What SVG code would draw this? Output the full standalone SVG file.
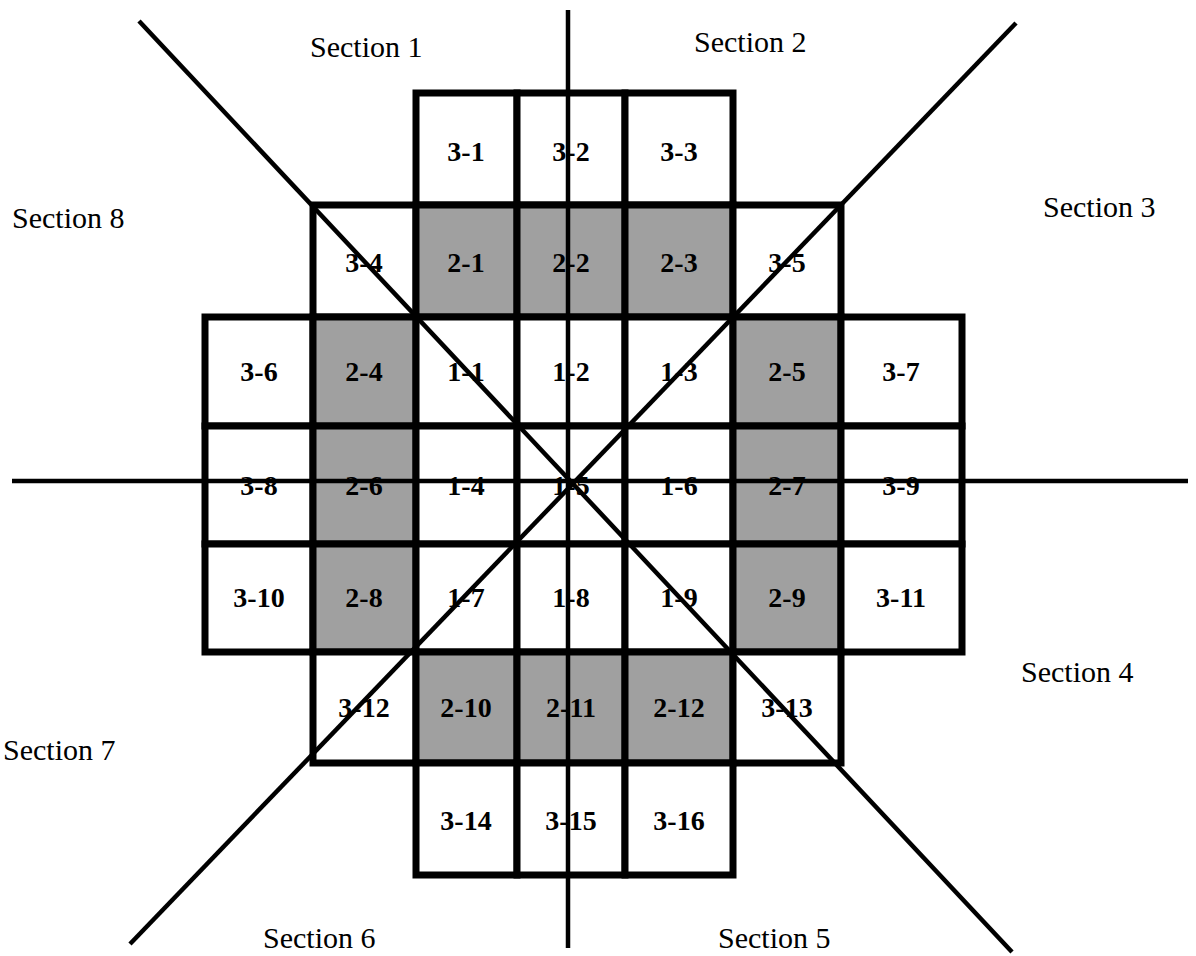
<svg xmlns="http://www.w3.org/2000/svg" width="1196" height="956" viewBox="0 0 1196 956">
<style>
.c{fill:#fff;stroke:#000;stroke-width:7}
.g{fill:#a0a0a0;stroke:#000;stroke-width:7}
.t{font-family:"Liberation Serif",serif;font-weight:bold;font-size:28px;text-anchor:middle;fill:#000}
.s{font-family:"Liberation Serif",serif;font-size:30px;fill:#000}
.l{stroke:#000;stroke-width:4.5;fill:none}
</style>
<rect width="1196" height="956" fill="#fff"/>
<g id="cells">
<g id="c3-1"><rect class="c" x="416" y="93" width="101" height="112"/><text class="t" x="466" y="161">3-1</text></g>
<g id="c3-2"><rect class="c" x="517" y="93" width="108" height="112"/><text class="t" x="571" y="161">3-2</text></g>
<g id="c3-3"><rect class="c" x="625" y="93" width="108" height="112"/><text class="t" x="679" y="161">3-3</text></g>
<g id="c3-4"><rect class="c" x="313" y="205" width="103" height="112"/><text class="t" x="364" y="272">3-4</text></g>
<g id="c2-1"><rect class="g" x="416" y="205" width="101" height="112"/><text class="t" x="466" y="272">2-1</text></g>
<g id="c2-2"><rect class="g" x="517" y="205" width="108" height="112"/><text class="t" x="571" y="272">2-2</text></g>
<g id="c2-3"><rect class="g" x="625" y="205" width="108" height="112"/><text class="t" x="679" y="272">2-3</text></g>
<g id="c3-5"><rect class="c" x="733" y="205" width="108" height="112"/><text class="t" x="787" y="272">3-5</text></g>
<g id="c3-6"><rect class="c" x="205" y="317" width="108" height="109"/><text class="t" x="259" y="381">3-6</text></g>
<g id="c2-4"><rect class="g" x="313" y="317" width="103" height="109"/><text class="t" x="364" y="381">2-4</text></g>
<g id="c1-1"><rect class="c" x="416" y="317" width="101" height="109"/><text class="t" x="466" y="381">1-1</text></g>
<g id="c1-2"><rect class="c" x="517" y="317" width="108" height="109"/><text class="t" x="571" y="381">1-2</text></g>
<g id="c1-3"><rect class="c" x="625" y="317" width="108" height="109"/><text class="t" x="679" y="381">1-3</text></g>
<g id="c2-5"><rect class="g" x="733" y="317" width="108" height="109"/><text class="t" x="787" y="381">2-5</text></g>
<g id="c3-7"><rect class="c" x="841" y="317" width="121" height="109"/><text class="t" x="901" y="381">3-7</text></g>
<g id="c3-8"><rect class="c" x="205" y="426" width="108" height="118"/><text class="t" x="259" y="495">3-8</text></g>
<g id="c2-6"><rect class="g" x="313" y="426" width="103" height="118"/><text class="t" x="364" y="495">2-6</text></g>
<g id="c1-4"><rect class="c" x="416" y="426" width="101" height="118"/><text class="t" x="466" y="495">1-4</text></g>
<g id="c1-5"><rect class="c" x="517" y="426" width="108" height="118"/><text class="t" x="571" y="495">1-5</text></g>
<g id="c1-6"><rect class="c" x="625" y="426" width="108" height="118"/><text class="t" x="679" y="495">1-6</text></g>
<g id="c2-7"><rect class="g" x="733" y="426" width="108" height="118"/><text class="t" x="787" y="495">2-7</text></g>
<g id="c3-9"><rect class="c" x="841" y="426" width="121" height="118"/><text class="t" x="901" y="495">3-9</text></g>
<g id="c3-10"><rect class="c" x="205" y="544" width="108" height="108"/><text class="t" x="259" y="607">3-10</text></g>
<g id="c2-8"><rect class="g" x="313" y="544" width="103" height="108"/><text class="t" x="364" y="607">2-8</text></g>
<g id="c1-7"><rect class="c" x="416" y="544" width="101" height="108"/><text class="t" x="466" y="607">1-7</text></g>
<g id="c1-8"><rect class="c" x="517" y="544" width="108" height="108"/><text class="t" x="571" y="607">1-8</text></g>
<g id="c1-9"><rect class="c" x="625" y="544" width="108" height="108"/><text class="t" x="679" y="607">1-9</text></g>
<g id="c2-9"><rect class="g" x="733" y="544" width="108" height="108"/><text class="t" x="787" y="607">2-9</text></g>
<g id="c3-11"><rect class="c" x="841" y="544" width="121" height="108"/><text class="t" x="901" y="607">3-11</text></g>
<g id="c3-12"><rect class="c" x="313" y="652" width="103" height="111"/><text class="t" x="364" y="717">3-12</text></g>
<g id="c2-10"><rect class="g" x="416" y="652" width="101" height="111"/><text class="t" x="466" y="717">2-10</text></g>
<g id="c2-11"><rect class="g" x="517" y="652" width="108" height="111"/><text class="t" x="571" y="717">2-11</text></g>
<g id="c2-12"><rect class="g" x="625" y="652" width="108" height="111"/><text class="t" x="679" y="717">2-12</text></g>
<g id="c3-13"><rect class="c" x="733" y="652" width="108" height="111"/><text class="t" x="787" y="717">3-13</text></g>
<g id="c3-14"><rect class="c" x="416" y="763" width="101" height="112"/><text class="t" x="466" y="830">3-14</text></g>
<g id="c3-15"><rect class="c" x="517" y="763" width="108" height="112"/><text class="t" x="571" y="830">3-15</text></g>
<g id="c3-16"><rect class="c" x="625" y="763" width="108" height="112"/><text class="t" x="679" y="830">3-16</text></g>
</g>
<g id="connectors">
<line class="l" x1="568" y1="10" x2="568" y2="948"/>
<line class="l" x1="12" y1="481" x2="1188" y2="481"/>
<line class="l" x1="139" y1="21" x2="1012" y2="952"/>
<line class="l" x1="1016" y1="23" x2="130" y2="944"/>
</g>
<g id="labels">
<text class="s" x="310" y="57">Section 1</text>
<text class="s" x="694" y="52">Section 2</text>
<text class="s" x="1043" y="217">Section 3</text>
<text class="s" x="1021" y="682">Section 4</text>
<text class="s" x="718" y="948">Section 5</text>
<text class="s" x="263" y="948">Section 6</text>
<text class="s" x="3" y="760">Section 7</text>
<text class="s" x="12" y="228">Section 8</text>
</g>
</svg>
